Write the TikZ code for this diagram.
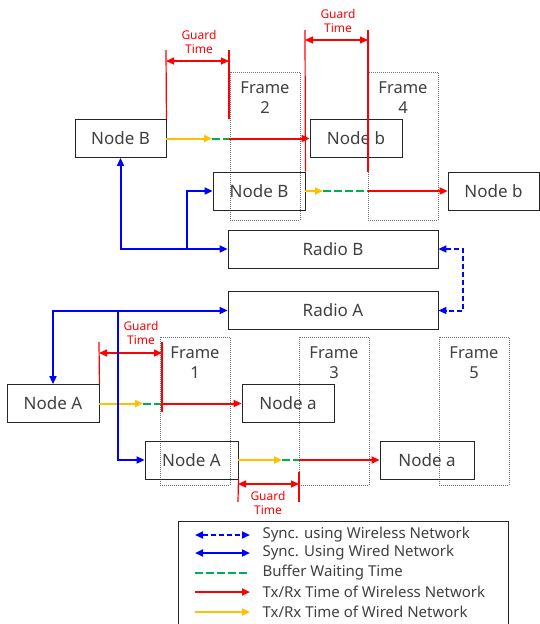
\documentclass[tikz,border=0pt]{standalone}
\usepackage{fontspec}
\setmainfont{Noto Sans}
\usetikzlibrary{arrows.meta}
\usepackage{xcolor}
\definecolor{kred}{HTML}{FF0000}
\definecolor{kyel}{HTML}{FFC000}
\definecolor{kgrn}{HTML}{00B050}
\definecolor{kblu}{HTML}{0000FF}
\definecolor{ktxt}{HTML}{404040}
\definecolor{kfrm}{HTML}{707070}

\begin{document}
\begin{tikzpicture}[x=1pt,y=-1pt,
  >={Triangle[length=8pt,width=7pt]},
  box/.style={draw=black!85,line width=0.9pt,text=ktxt,inner sep=0pt,
    font=\fontsize{17}{20}\selectfont,minimum height=38},
  frame/.style={draw=kfrm,line width=0.8pt,dash pattern=on 1pt off 1pt},
  framelbl/.style={text=ktxt,align=center,font=\fontsize{16.5}{20}\selectfont},
  wired/.style={kblu,line width=2pt},
  wireless/.style={kblu,line width=2pt,dash pattern=on 5pt off 3pt},
  buffer/.style={kgrn,line width=2pt,dash pattern=on 8pt off 3pt},
  txwired/.style={kyel,line width=2pt},
  txwireless/.style={kred,line width=2pt},
  guard/.style={kred,line width=1.2pt},
  guardlbl/.style={text=kred,align=center,font=\fontsize{12}{14}\selectfont},
  legtxt/.style={text=ktxt,anchor=west,font=\fontsize{15}{17}\selectfont}]
  \useasboundingbox (0,0) rectangle (540,624);

  % Frames (dotted time slots)
  \foreach \n/\x/\y in {2/230/72, 4/368/72, 1/160/337, 3/299/337, 5/439/337} {
    \draw[frame] (\x,\y) rectangle ++(70,148);
    \node[framelbl] (f\n) at (\x+35,\y+26) {Frame\\\n};
  }

  % Nodes and radios
  \node[box,minimum width=91] (nB1) at (120.5,138.5) {Node B};
  \node[box,minimum width=92] (nb1) at (356,138.5) {Node b};
  \node[box,minimum width=92] (nB2) at (259,191) {Node B};
  \node[box,minimum width=91] (nb2) at (493.5,191) {Node b};
  \node[box,minimum width=210] (rB) at (333,249) {Radio B};
  \node[box,minimum width=210] (rA) at (333,310.5) {Radio A};
  \node[box,minimum width=92] (nA1) at (53,403.5) {Node A};
  \node[box,minimum width=92] (na1) at (288,403.5) {Node a};
  \node[box,minimum width=93] (nA2) at (191.5,460) {Node A};
  \node[box,minimum width=94] (na2) at (427,460) {Node a};

  % Transmission rows: wired -> buffer -> wireless
  \foreach \s/\t/\a/\b in {nB1/nb1/212/229, nB2/nb2/323/368, nA1/na1/143/162, nA2/na2/282/299} {
    \draw[txwired,->] (\s.east) -- (\s.east -| \a,0);
    \draw[buffer] (\s.east -| \a,0) -- (\s.east -| \b,0);
    \draw[txwireless,->] (\s.east -| \b,0) -- (\t.west);
  }

  % Guard times
  \draw[guard] (166,50) -- (nB1.north east);
  \draw[guard] (229,50) -- (229,119);
  \draw[guard,<->] (166,61) -- (229,61);
  \node[guardlbl] (g1) at (199,42) {Guard\\Time};

  \draw[guard] (305,30) -- (nB2.north east);
  \draw[guard] (368,30) -- (368,172);
  \draw[guard,<->] (305,40) -- (368,40);
  \node[guardlbl] (g2) at (338,21) {Guard\\Time};

  \draw[guard] (99,342) -- (nA1.north east);
  \draw[guard] (162,342) -- (162,412);
  \draw[guard,<->] (99,353) -- (162,353);
  \node[guardlbl] (g3) at (141,333) {Guard\\Time};

  \draw[guard] (nA2.south east) -- (238,502);
  \draw[guard] (299,472) -- (299,502);
  \draw[guard,<->] (238,484) -- (299,484);
  \node[guardlbl] (g4) at (268,503) {Guard\\Time};

  % Wired sync
  \coordinate (jB) at (187,249);
  \draw[wired,<->] (nB1.south) |- (rB.west);
  \draw[wired,->] (jB) |- (nB2.west);
  \coordinate (jA) at (118,310.5);
  \draw[wired,<->] (nA1.north) |- (rA.west);
  \draw[wired,->] (jA) |- (nA2.west);

  % Wireless sync
  \draw[wireless,<->] (rB.east) -- ++(25,0) |- (rA.east);

  % Legend
  \draw[black!85,line width=0.9pt] (178,521) rectangle (508,630);
  \foreach \y/\st/\ar/\tx in {535/wireless/<->/Sync. using Wireless Network,
      553/wired/<->/Sync. Using Wired Network,
      573/buffer/-/Buffer Waiting Time,
      592/txwireless/->/Tx\slash Rx Time of Wireless Network,
      612/txwired/->/Tx\slash Rx Time of Wired Network} {
    \draw[\st,\ar] (195,\y) -- (250,\y);
    \node[legtxt] at (259,\y) {\tx};
  }
\end{tikzpicture}
\end{document}
